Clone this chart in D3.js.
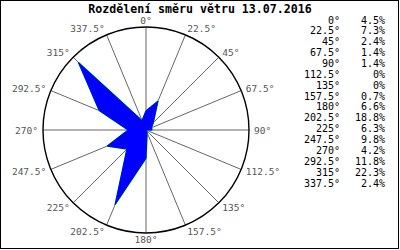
<!DOCTYPE html>
<html>
<head>
<meta charset="utf-8">
<script src="https://cdn.jsdelivr.net/npm/d3@7"></script>
<style>
  body { margin: 0; background: #fff; }
  text { font-family: "DejaVu Sans Mono", monospace; }
</style>
</head>
<body>
<div id="chart"></div>
<script>
// wind direction distribution
var directions = [0, 22.5, 45, 67.5, 90, 112.5, 135, 157.5, 180, 202.5, 225, 247.5, 270, 292.5, 315, 337.5];
var shares = [4.5, 7.3, 2.4, 1.4, 1.4, 0, 0, 0.7, 6.6, 18.8, 6.3, 9.8, 4.2, 11.8, 22.3, 2.4];
var titleText = "Rozdělení směru větru 13.07.2016";
var rMax = 24;

var width = 400, height = 250;
var cx = 146, cy = 130, R = 103;

var svg = d3.select("#chart")
  .append("svg")
    .attr("width", width)
    .attr("height", height);

// frame
svg.append("rect")
  .attr("x", 0.5).attr("y", 0.5)
  .attr("width", 398).attr("height", 248)
  .style("fill", "none")
  .style("stroke", "#000")
  .style("stroke-width", 1);

svg.append("text")
  .attr("x", 200)
  .attr("y", 13)
  .style("text-anchor", "middle")
  .style("font-size", "11.6px")
  .style("font-weight", "bold")
  .text(titleText);

var r = d3.scaleLinear().domain([0, rMax]).range([0, R]);
var rad = d => d * Math.PI / 180;

var g = svg.append("g")
  .attr("transform", "translate(" + cx + "," + cy + ")");

// spokes
g.selectAll("line.spoke")
  .data(directions)
  .enter()
  .append("line")
  .attr("class", "spoke")
  .attr("x1", 0).attr("y1", 0)
  .attr("x2", d => R * Math.sin(rad(d)))
  .attr("y2", d => -R * Math.cos(rad(d)))
  .style("stroke", "#666")
  .style("stroke-width", 1);

g.append("circle")
  .attr("r", R)
  .style("fill", "none")
  .style("stroke", "#000")
  .style("stroke-width", 1.4);

// rose polygon
var pts = directions.map((d, i) => [r(shares[i]) * Math.sin(rad(d)), -r(shares[i]) * Math.cos(rad(d))]);
var line = d3.line().curve(d3.curveLinearClosed);

g.append("path")
  .attr("d", line(pts))
  .style("fill", "none")
  .style("stroke", "#00ff00")
  .style("stroke-width", 1.4);

g.append("path")
  .attr("d", line(pts))
  .style("fill", "#0000ff")
  .style("stroke", "#0000ff")
  .style("stroke-width", 1);

// direction labels
g.selectAll("text.dir")
  .data(directions)
  .enter()
  .append("text")
  .attr("class", "dir")
  .attr("x", d => (R + 5) * Math.sin(rad(d)))
  .attr("y", d => -(R + 5) * Math.cos(rad(d)) - 1.5 * Math.cos(rad(d)))
  .attr("dominant-baseline", "central")
  .style("text-anchor", d => {
    var s = Math.sin(rad(d));
    return s > 0.01 ? "start" : (s < -0.01 ? "end" : "middle");
  })
  .style("font-size", "9.5px")
  .style("fill", "#555")
  .text(d => d + "°");

// legend table
var rowH = 10.87;
var legend = svg.append("g");

legend.selectAll("text.deg")
  .data(directions)
  .enter()
  .append("text")
  .attr("class", "deg")
  .attr("x", 340)
  .attr("y", (d, i) => 23.5 + i * rowH)
  .style("text-anchor", "end")
  .style("font-size", "10px")
  .text(d => d + "°");

legend.selectAll("text.pct")
  .data(shares)
  .enter()
  .append("text")
  .attr("class", "pct")
  .attr("x", 385)
  .attr("y", (d, i) => 23.5 + i * rowH)
  .style("text-anchor", "end")
  .style("font-size", "10px")
  .text(d => d + "%");
</script>
</body>
</html>
